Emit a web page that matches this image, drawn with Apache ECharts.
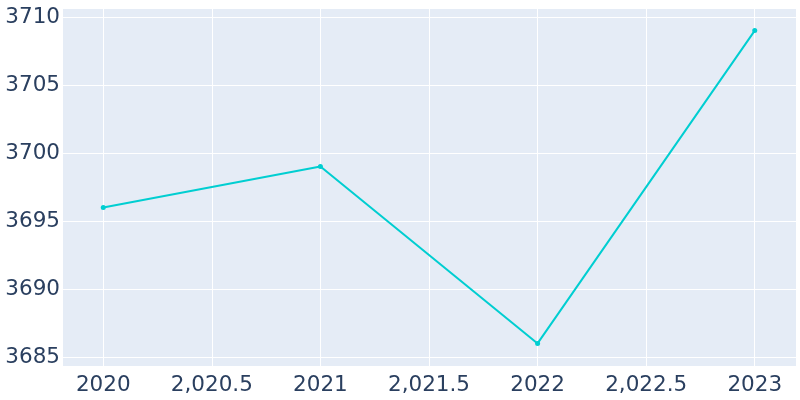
<!DOCTYPE html>
<html>
<head>
<meta charset="utf-8">
<script src="https://cdn.jsdelivr.net/npm/echarts@6/dist/echarts.min.js"></script>
<style>html,body{margin:0;padding:0;background:#fff}#c{width:800px;height:400px}</style>
</head>
<body>
<div id="c"></div>
<script>
const years = [2020, 2021, 2022, 2023];
const population = [3696, 3699, 3686, 3709];

const chart = echarts.init(document.getElementById('c'));
function fmtX(v) {
  const r = Math.round(v * 10) / 10;
  if (Number.isInteger(r)) return String(r);
  return r.toLocaleString('en-US', {minimumFractionDigits: 1, maximumFractionDigits: 1});
}
function fmtY(v) { return String(Math.round(v)); }
chart.setOption({
  animation: false,
  backgroundColor: '#ffffff',
  grid: {left: 62, right: 4, top: 8, bottom: 34, backgroundColor: '#E5ECF6', show: true, borderWidth: 0},
  xAxis: {
    type: 'value', min: 2019.81, max: 2023.19, splitNumber: 6,
    axisLine: {show: false}, axisTick: {show: false},
    axisLabel: {showMinLabel: false, showMaxLabel: false, formatter: fmtX, color: '#2a3f5f', fontSize: 21.5, fontFamily: 'DejaVu Sans', margin: 8},
    splitLine: {show: true, lineStyle: {color: '#ffffff', width: 1}}
  },
  yAxis: {
    type: 'value', min: 3684.34, max: 3710.66, splitNumber: 5,
    axisLine: {show: false}, axisTick: {show: false},
    axisLabel: {showMinLabel: false, showMaxLabel: false, formatter: fmtY, color: '#2a3f5f', fontSize: 21.5, fontFamily: 'DejaVu Sans', margin: 2},
    splitLine: {show: true, lineStyle: {color: '#ffffff', width: 1}}
  },
  series: [{
    type: 'line',
    data: years.map((y, i) => [y, population[i]]),
    symbol: 'circle', symbolSize: 5, showSymbol: true,
    lineStyle: {color: '#00CED1', width: 2},
    itemStyle: {color: '#00CED1'}
  }]
});
</script>
</body>
</html>
